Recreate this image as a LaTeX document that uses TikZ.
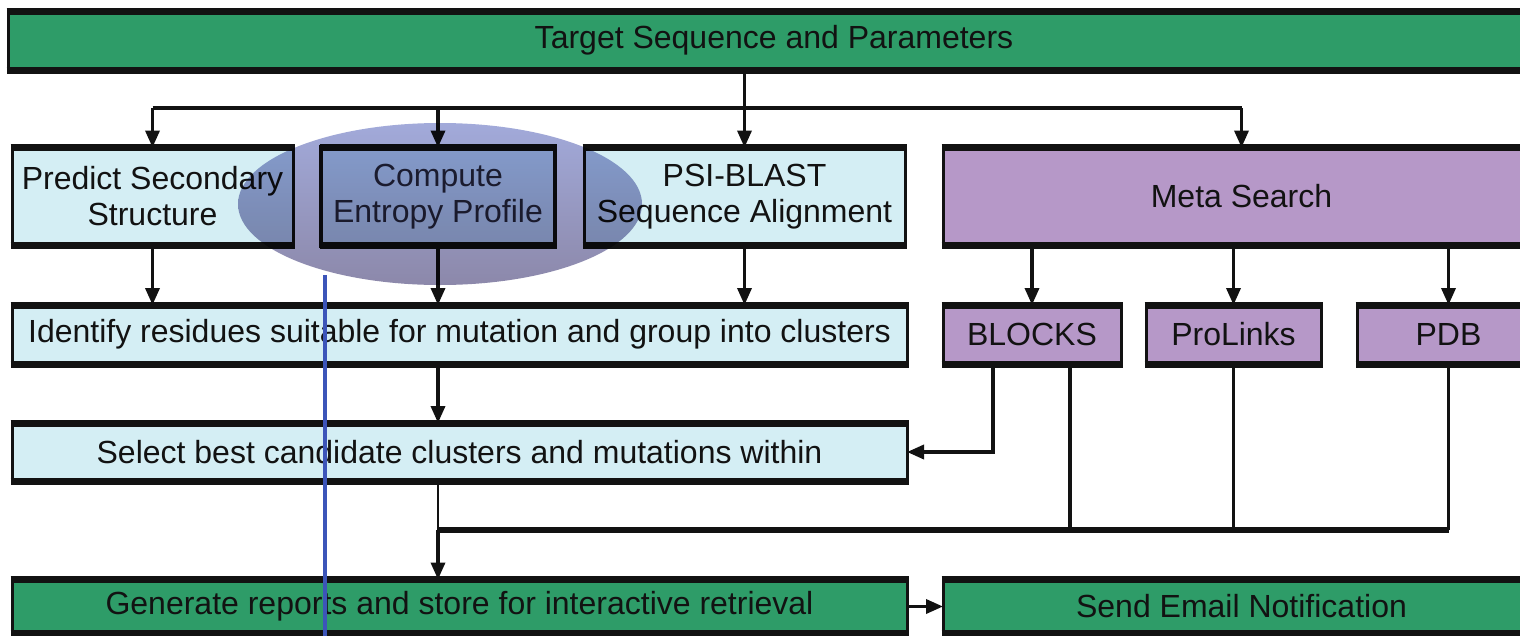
\documentclass[tikz,border=0pt]{standalone}
\usepackage{fontspec}
\setmainfont{Liberation Sans}
\usetikzlibrary{arrows.meta,calc}
\definecolor{grn}{RGB}{46,156,104}
\definecolor{cyn}{RGB}{212,238,244}
\definecolor{prp}{RGB}{182,152,200}
\definecolor{ink}{RGB}{18,18,18}
\definecolor{dim}{RGB}{45,45,60}
\definecolor{bline}{RGB}{60,85,185}
\definecolor{elltop}{RGB}{162,170,218}
\definecolor{ellbot}{RGB}{140,136,170}
\begin{document}
\begin{tikzpicture}[x=1pt,y=-1pt,
  box/.style={draw=ink, line width=3pt, inner sep=0pt, outer sep=0pt, anchor=north west,
    font=\fontsize{32}{36}\selectfont, align=center, text=ink},
  ln/.style={draw=ink, line width=3.5pt},
  arr/.style={draw=ink, line width=3.5pt, -{Triangle[width=14pt,length=17pt]}},
  thin/.style={draw=ink, line width=2pt},
  bus/.style={draw=ink, line width=6pt}]
\useasboundingbox (0,0) rectangle (1520,635);
\clip (0,0) rectangle (1520,635);
\fill[white] (0,0) rectangle (1520,635);

% boxes
\node[box, fill=grn, minimum width=1532pt, minimum height=59pt] (top) at (8,11) {Target Sequence and Parameters};
\node[box, fill=cyn, minimum width=281pt, minimum height=98pt] (pred) at (12,147.5) {Predict Secondary\\Structure};
\node[box, fill=cyn, line width=4.5pt, text=dim, minimum width=234pt, minimum height=98pt] (comp) at (321,147.5) {Compute\\Entropy Profile};
\node[box, fill=cyn, minimum width=321pt, minimum height=98pt] (psi) at (584,147.5) {PSI-BLAST\\Sequence Alignment};
\node[box, fill=prp, minimum width=597pt, minimum height=98pt] (meta) at (943,147.5) {Meta Search};
\node[box, fill=cyn, minimum width=895pt, minimum height=59pt] (ident) at (12,305) {Identify residues suitable for mutation and group into clusters};
\node[box, fill=prp, minimum width=178pt, minimum height=59pt] (blocks) at (943,305) {BLOCKS};
\node[box, fill=prp, minimum width=175pt, minimum height=59pt] (prol) at (1146,305) {ProLinks};
\node[box, fill=prp, minimum width=183pt, minimum height=59pt] (pdb) at (1357,305) {PDB};
\node[box, fill=cyn, minimum width=895pt, minimum height=58pt] (select) at (12,423) {Select best candidate clusters and mutations within};
\node[box, fill=grn, minimum width=895pt, minimum height=54pt] (gen) at (12,579.5) {Generate reports and store for interactive retrieval};
\node[box, fill=grn, minimum width=597pt, minimum height=54pt] (send) at (943,579.5) {Send Email Notification};

% thick top and bottom borders
\foreach \n in {top,pred,comp,psi,meta,ident,blocks,prol,pdb,select,gen,send}{
  \draw[ink, line width=7pt, shorten <=-1.5pt, shorten >=-1.5pt] (\n.north west) -- (\n.north east);
  \draw[ink, line width=7pt, shorten <=-1.5pt, shorten >=-1.5pt] (\n.south west) -- (\n.south east);
}

% connectors
\coordinate (busA) at (0,108);
\coordinate (busB) at (0,530);
\draw[ln] (top.south -| psi.north) -- (busA -| psi.north);
\draw[ln] (busA -| pred.north) -- (busA -| meta.north);
\draw[arr] (busA -| pred.north) -- (pred.north);
\draw[arr] (busA -| comp.north) -- (comp.north);
\draw[arr] (busA -| psi.north) -- (psi.north);
\draw[arr] (busA -| meta.north) -- (meta.north);

\draw[arr] (pred.south) -- (pred.south |- ident.north);
\draw[arr] (comp.south) -- (comp.south |- ident.north);
\draw[arr] (psi.south) -- (psi.south |- ident.north);

\draw[arr] (meta.south -| blocks.north) -- (blocks.north);
\draw[arr] (meta.south -| prol.north) -- (prol.north);
\draw[arr] (meta.south -| pdb.north) -- (pdb.north);

\draw[arr] (ident.south -| comp.south) -- (select.north -| comp.south);
\draw[arr] ([xshift=-39pt]blocks.south) |- (select.east);

\draw[ln] ([xshift=38pt]blocks.south) -- ([xshift=38pt]blocks.south |- busB);
\draw[ln] (prol.south) -- (prol.south |- busB);
\draw[ln] (pdb.south) -- (pdb.south |- busB);
\draw[bus] (busB -| comp.south) -- (busB -| pdb.south);
\draw[thin] (select.south -| comp.south) -- (busB -| comp.south);
\draw[arr] (busB -| comp.south) -- (gen.north -| comp.south);
\draw[arr] (gen.east) -- (send.west);

% highlight ellipse
\begin{scope}[blend mode=multiply]
  \shade[top color=elltop, bottom color=ellbot] (440,204) ellipse [x radius=202, y radius=81];
\end{scope}

% blue marker line
\coordinate (bl1) at (325,275);
\coordinate (bl2) at (325,640);
\draw[bline, line width=3.5pt] (bl1) -- (bl2);
\end{tikzpicture}
\end{document}
